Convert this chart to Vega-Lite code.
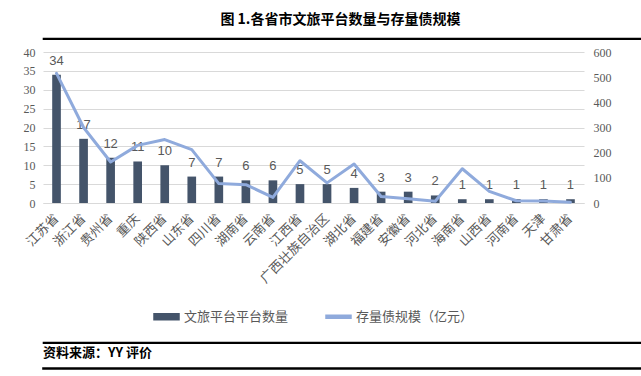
{
  "$schema": "https://vega.github.io/schema/vega-lite/v6.json",
  "background": "white",
  "padding": {"left": 5, "right": 4, "top": 13, "bottom": 2},
  "title": {"text": "图 1.各省市文旅平台数量与存量债规模", "font": "Noto Sans CJK SC", "fontSize": 14, "fontWeight": "bold", "color": "#000000", "anchor": "middle", "offset": 10},
  "config": {
    "view": {"stroke": null},
    "concat": {"spacing": 6},
    "legend": {"layout": {"bottom": {"anchor": "middle"}}}
  },
  "resolve": {"scale": {"color": "independent"}, "legend": {"color": "independent"}},
  "vconcat": [
    {"width": 632, "height": 1, "data": {"values": []}, "mark": "point", "encoding": {}, "view": {"stroke": "#000000", "strokeWidth": 1.2, "fill": "#000000"}},
    {
      "width": 541,
      "height": 151,
      "data": {"values": [
        {"省市": "江苏省", "平台数量": 34, "存量债规模": 515},
        {"省市": "浙江省", "平台数量": 17, "存量债规模": 300},
        {"省市": "贵州省", "平台数量": 12, "存量债规模": 163},
        {"省市": "重庆", "平台数量": 11, "存量债规模": 229},
        {"省市": "陕西省", "平台数量": 10, "存量债规模": 252},
        {"省市": "山东省", "平台数量": 7, "存量债规模": 212},
        {"省市": "四川省", "平台数量": 7, "存量债规模": 77},
        {"省市": "湖南省", "平台数量": 6, "存量债规模": 73},
        {"省市": "云南省", "平台数量": 6, "存量债规模": 22},
        {"省市": "江西省", "平台数量": 5, "存量债规模": 168},
        {"省市": "广西壮族自治区", "平台数量": 5, "存量债规模": 80},
        {"省市": "湖北省", "平台数量": 4, "存量债规模": 155},
        {"省市": "福建省", "平台数量": 3, "存量债规模": 26},
        {"省市": "安徽省", "平台数量": 3, "存量债规模": 17},
        {"省市": "河北省", "平台数量": 2, "存量债规模": 7},
        {"省市": "海南省", "平台数量": 1, "存量债规模": 136},
        {"省市": "山西省", "平台数量": 1, "存量债规模": 46},
        {"省市": "河南省", "平台数量": 1, "存量债规模": 9},
        {"省市": "天津", "平台数量": 1, "存量债规模": 8},
        {"省市": "甘肃省", "平台数量": 1, "存量债规模": 3}
      ]},
      "encoding": {
        "x": {
          "field": "省市", "type": "nominal", "sort": null,
          "scale": {"paddingInner": 0.68, "paddingOuter": 0.34},
          "axis": {"title": null, "labelAngle": -45, "labelAlign": "right", "labelBaseline": "middle", "ticks": false, "domainColor": "#d9d9d9", "labelFont": "Noto Sans CJK SC", "labelFontSize": 13, "labelColor": "#595959", "labelPadding": 13}
        }
      },
      "layer": [
        {
          "encoding": {
            "y": {"field": "平台数量", "type": "quantitative", "scale": {"domain": [0, 40]},
              "axis": {"title": "\u00a0", "titleFontSize": 10, "titlePadding": 8, "values": [0, 5, 10, 15, 20, 25, 30, 35, 40], "labelOverlap": false, "grid": true, "gridColor": "#d9d9d9", "domain": false, "ticks": false, "labelFont": "Liberation Serif", "labelFontSize": 12, "labelColor": "#595959", "labelPadding": 8}}
          },
          "layer": [
            {
              "mark": {"type": "bar"},
              "encoding": {
                "color": {
                  "datum": "文旅平台平台数量", "type": "nominal",
                  "scale": {"domain": ["文旅平台平台数量", "存量债规模（亿元）"], "range": ["#44546a", "#8faadc"]},
                  "legend": {
                    "title": null, "orient": "bottom", "direction": "horizontal",
                    "labelFont": "Noto Sans CJK SC", "labelFontSize": 13, "labelColor": "#595959",
                    "columnPadding": 34, "offset": 6, "padding": 11, "labelOffset": 4, "symbolSize": 625,
                    "encode": {"symbols": {"update": {
                      "shape": {"signal": "datum.value === '文旅平台平台数量' ? 'M-1,-0.24H1V0.24H-1Z' : 'M-1,-0.12H1V0.12H-1Z'"},
                      "fill": {"signal": "datum.value === '文旅平台平台数量' ? '#44546a' : '#8faadc'"},
                      "stroke": {"value": "transparent"},
                      "opacity": {"value": 1}
                    }}}
                  }
                }
              }
            },
            {
              "mark": {"type": "text", "dy": -10, "baseline": "alphabetic", "font": "Liberation Sans", "fontSize": 13, "color": "#595959"},
              "encoding": {
                "text": {"field": "平台数量", "type": "quantitative"}
              }
            }
          ]
        },
        {
          "mark": {"type": "line", "strokeWidth": 3, "strokeJoin": "round", "strokeCap": "round"},
          "encoding": {
            "y": {"field": "存量债规模", "type": "quantitative", "scale": {"domain": [0, 600]},
              "axis": {"orient": "right", "title": null, "values": [0, 100, 200, 300, 400, 500, 600], "labelOverlap": false, "grid": false, "domain": false, "ticks": false, "labelFont": "Liberation Serif", "labelFontSize": 12, "labelColor": "#595959", "labelPadding": 9}},
            "color": {"datum": "存量债规模（亿元）", "type": "nominal"}
          }
        }
      ],
      "resolve": {"scale": {"y": "independent"}}
    },
    {"width": 632, "height": 1, "data": {"values": []}, "mark": "point", "encoding": {}, "view": {"stroke": "#000000", "strokeWidth": 1.2, "fill": "#000000"},
      "title": {"text": "资料来源：YY 评价", "orient": "bottom", "anchor": "start", "baseline": "middle", "font": "Noto Sans CJK SC", "fontSize": 13, "fontWeight": "bold", "color": "#000000", "offset": 10}},
    {"width": 632, "height": 1, "data": {"values": []}, "mark": "point", "encoding": {}, "view": {"stroke": "#000000", "strokeWidth": 1.6, "fill": "#000000"}}
  ]
}
